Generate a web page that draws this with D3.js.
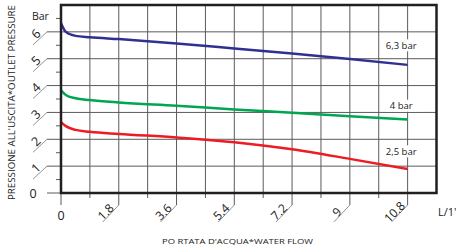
<!DOCTYPE html>
<html>
<head>
<meta charset="utf-8">
<script src="https://cdn.jsdelivr.net/npm/d3@7"></script>
<style>
  body { margin: 0; background: #fff; }
  svg { display: block; font-family: "Open Sans", "DejaVu Sans", sans-serif; }
  .grid line { stroke: #5a5a5a; stroke-width: 1; }
  .tick-lead { stroke: #777; stroke-width: 0.8; fill: none; }
</style>
</head>
<body>
<svg width="457" height="247"></svg>
<script>
// flow in L/1', pressure in bar
const flow = [0, 0.15, 0.45, 0.9, 1.8, 3.6, 5.4, 7.2, 9, 10.8];
const p63 = [6.32, 6.0, 5.85, 5.8, 5.73, 5.57, 5.38, 5.19, 4.99, 4.77];
const p4 = [3.82, 3.65, 3.53, 3.46, 3.37, 3.25, 3.11, 2.99, 2.86, 2.74];
const p25 = [2.64, 2.49, 2.35, 2.28, 2.2, 2.07, 1.89, 1.63, 1.27, 0.89];

const seriesNames = ['6,3 bar', '4 bar', '2,5 bar'];
const seriesValues = [p63, p4, p25];
const seriesColors = ['#2e3192', '#00a650', '#ed1c24'];
const labelY = [5.5, 3.25, 1.55];

const xTicks = [1.8, 3.6, 5.4, 7.2, 9, 10.8];
const xTickLabels = ['1.8', '3.6', '5.4', '7.2', '9', '10.8'];
const yTicks = [1, 2, 3, 4, 5, 6];

const margin = { top: 5, right: 20.5, bottom: 54, left: 61 };
const width = 457;
const height = 247;

const svg = d3.select('svg');

const x = d3.scaleLinear()
  .domain([0, 11.7])
  .range([margin.left, width - margin.right]);
const y = d3.scaleLinear()
  .domain([0, 7])
  .range([height - margin.bottom, margin.top]);

// grid
const grid = svg.append('g').attr('class', 'grid');
grid.selectAll('.v')
  .data(d3.range(1, 13).map(i => i * 0.9))
  .enter()
  .append('line')
  .attr('x1', d => x(d))
  .attr('x2', d => x(d))
  .attr('y1', y(7))
  .attr('y2', d => Math.round(d / 0.9) % 2 === 0 ? y(0) + 12 : y(0) + 5);
grid.selectAll('.h')
  .data(d3.range(0, 7))
  .enter()
  .append('line')
  .attr('x1', x(0) - 14)
  .attr('x2', x(11.7))
  .attr('y1', d => y(d))
  .attr('y2', d => y(d));
// minor ticks on left axis
grid.selectAll('.m')
  .data(d3.range(0, 7).map(i => i + 0.5))
  .enter()
  .append('line')
  .attr('x1', x(0) - 5)
  .attr('x2', x(0))
  .attr('y1', d => y(d))
  .attr('y2', d => y(d));
// zero tick under x axis
grid.append('line')
  .attr('x1', x(0)).attr('x2', x(0))
  .attr('y1', y(0)).attr('y2', y(0) + 12);

// slanted leaders + labels on x
const xl = svg.append('g');
xl.selectAll('path')
  .data(xTicks)
  .enter()
  .append('path')
  .attr('class', 'tick-lead')
  .attr('d', d => `M${x(d)},${y(0) + 12}L${x(d) - 16},${y(0) + 29}`);
xl.selectAll('text')
  .data(xTicks)
  .enter()
  .append('text')
  .attr('transform', d => `translate(${x(d) - 13},${y(0) + 19}) rotate(-45)`)
  .attr('text-anchor', 'middle')
  .attr('dy', '0.35em')
  .attr('font-size', 12)
  .attr('fill', '#222')
  .text((d, i) => xTickLabels[i]);
svg.append('text')
  .attr('x', x(0))
  .attr('y', y(0) + 27)
  .attr('text-anchor', 'middle')
  .attr('font-size', 12.5)
  .attr('fill', '#222')
  .text('0');

// slanted leaders + labels on y
const yl = svg.append('g');
yl.selectAll('path')
  .data(yTicks)
  .enter()
  .append('path')
  .attr('class', 'tick-lead')
  .attr('d', d => `M${x(0) - 14},${y(d)}L${x(0) - 28},${y(d) + 13}`);
yl.selectAll('text')
  .data(yTicks)
  .enter()
  .append('text')
  .attr('transform', d => `translate(${x(0) - 25},${y(d) + 2}) rotate(-45)`)
  .attr('text-anchor', 'middle')
  .attr('dy', '0.35em')
  .attr('font-size', 12.5)
  .attr('fill', '#222')
  .text(d => d);
svg.append('text')
  .attr('x', x(0) - 28)
  .attr('y', y(0) + 5)
  .attr('text-anchor', 'middle')
  .attr('font-size', 12.5)
  .attr('fill', '#222')
  .text('0');

// curves
const line = d3.line()
  .x((d, i) => x(flow[i]))
  .y(d => y(d))
  .curve(d3.curveMonotoneX);
svg.selectAll('.curve')
  .data(seriesValues)
  .enter()
  .append('path')
  .attr('fill', 'none')
  .attr('stroke', (d, i) => seriesColors[i])
  .attr('stroke-width', 2.5)
  .attr('d', line);

// series labels with white background
const lab = svg.selectAll('.lab')
  .data(seriesNames)
  .enter()
  .append('g')
  .attr('transform', (d, i) => `translate(${x(10.6)},${y(labelY[i])})`);
lab.append('rect')
  .attr('x', -16).attr('y', -6)
  .attr('width', 32).attr('height', 12)
  .attr('fill', '#fff');
lab.append('text')
  .attr('text-anchor', 'middle')
  .attr('dy', '0.35em')
  .attr('font-size', 9.5)
  .attr('fill', '#222')
  .text(d => d);

// frame
svg.append('rect')
  .attr('x', x(0)).attr('y', y(7))
  .attr('width', x(11.7) - x(0))
  .attr('height', y(0) - y(7))
  .attr('fill', 'none')
  .attr('stroke', '#231f20')
  .attr('stroke-width', 2.5);

// units and titles
svg.append('text')
  .attr('x', 32).attr('y', 20)
  .attr('font-size', 10.5)
  .attr('fill', '#222')
  .text('Bar');
svg.append('text')
  .attr('x', 438).attr('y', 216)
  .attr('font-size', 11)
  .attr('fill', '#222')
  .text("L/1'");
svg.append('text')
  .attr('x', 162).attr('y', 244)
  .attr('font-size', 8)
  .attr('fill', '#222')
  .attr('textLength', 151)
  .attr('lengthAdjust', 'spacingAndGlyphs')
  .text("PO RTATA D'ACQUA*WATER FLOW");
svg.append('text')
  .attr('transform', 'translate(15,200) rotate(-90)')
  .attr('font-size', 8.5)
  .attr('fill', '#222')
  .attr('textLength', 195)
  .attr('lengthAdjust', 'spacingAndGlyphs')
  .text("PRESSIONE ALL'USCITA*OUTLET PRESSURE");
</script>
</body>
</html>
